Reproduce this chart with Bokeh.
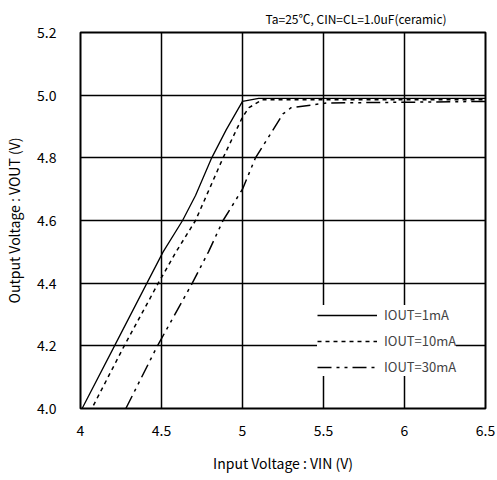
from bokeh.plotting import figure
from bokeh.models import Range1d, FixedTicker, Legend, LegendItem, Title
from bokeh.embed import file_html
from bokeh.resources import INLINE

vin_1 = [4.01, 4.21, 4.41, 4.51, 4.63, 4.71, 4.81, 4.90, 5.00, 5.10, 6.50]
vout_1 = [4.00, 4.20, 4.40, 4.50, 4.60, 4.68, 4.80, 4.89, 4.98, 4.99, 4.99]

vin_10 = [4.08, 4.27, 4.48, 4.59, 4.71, 4.88, 5.00, 5.04, 5.12, 6.50]
vout_10 = [4.01, 4.20, 4.40, 4.50, 4.60, 4.80, 4.93, 4.96, 4.985, 4.985]

vin_30 = [4.28, 4.475, 4.69, 4.79, 4.88, 5.00, 5.08, 5.25, 5.30, 5.52, 6.50]
vout_30 = [4.00, 4.20, 4.40, 4.50, 4.60, 4.70, 4.80, 4.94, 4.96, 4.975, 4.98]

x_ticks = [4, 4.5, 5, 5.5, 6, 6.5]
y_ticks = [4.0, 4.2, 4.4, 4.6, 4.8, 5.0, 5.2]
labels = ["IOUT=1mA", "IOUT=10mA", "IOUT=30mA"]
title_text = "Ta=25\u2103, CIN=CL=1.0uF(ceramic)"

FONT = "Noto Sans CJK JP"

p = figure(width=497, height=480, output_backend="svg", toolbar_location=None,
           x_range=Range1d(4, 6.5), y_range=Range1d(4.0, 5.2),
           min_border_left=80, min_border_right=12, min_border_top=32, min_border_bottom=72)

p.outline_line_color = "black"
p.outline_line_width = 2
p.background_fill_color = "white"
p.border_fill_color = "white"

for ax in (p.xaxis[0], p.yaxis[0]):
    ax.axis_line_color = None
    ax.major_tick_line_color = None
    ax.minor_tick_line_color = None
    ax.major_label_text_font = FONT
    ax.major_label_text_font_size = "14px"
    ax.major_label_text_color = "black"
    ax.axis_label_text_font = FONT
    ax.axis_label_text_font_size = "14px"
    ax.axis_label_text_font_style = "normal"
    ax.axis_label_text_color = "black"

p.xaxis[0].ticker = FixedTicker(ticks=x_ticks)
p.yaxis[0].ticker = FixedTicker(ticks=y_ticks)
p.xaxis[0].major_label_overrides = {4: "4", 4.5: "4.5", 5: "5", 5.5: "5.5", 6: "6", 6.5: "6.5"}
p.yaxis[0].major_label_overrides = {v: f"{v:.1f}" for v in y_ticks}
p.xaxis[0].major_label_standoff = 10
p.yaxis[0].major_label_standoff = 18
p.xaxis[0].axis_label = "Input Voltage : VIN (V)"
p.yaxis[0].axis_label = "Output Voltage : VOUT (V)"
p.xaxis[0].axis_label_standoff = 14
p.yaxis[0].axis_label_standoff = 10

p.xgrid.grid_line_color = "black"
p.ygrid.grid_line_color = "black"
p.xgrid.grid_line_width = 1.5
p.ygrid.grid_line_width = 1.5
p.grid.grid_line_alpha = 1.0

r1 = p.line(vin_1, vout_1, line_color="black", line_width=1.3)
r2 = p.line(vin_10, vout_10, line_color="black", line_width=1.5, line_dash="4 4")
r3 = p.line(vin_30, vout_30, line_color="black", line_width=1.5, line_dash="14 5 3 5 3 5")

legend = Legend(items=[LegendItem(label=labels[0], renderers=[r1]),
                       LegendItem(label=labels[1], renderers=[r2]),
                       LegendItem(label=labels[2], renderers=[r3])],
                location=(237, 32), glyph_width=60, glyph_height=14,
                label_text_font=FONT, label_text_font_size="13px",
                label_standoff=7, spacing=7, padding=5, margin=0,
                border_line_color=None, background_fill_color="white",
                background_fill_alpha=1.0)
p.add_layout(legend, "center")

t = Title(text=title_text, align="left", offset=185, standoff=12,
          text_font=FONT, text_font_size="12px", text_font_style="normal",
          text_color="black")
p.add_layout(t, "above")

open("out.html", "w").write(file_html(p, INLINE))
